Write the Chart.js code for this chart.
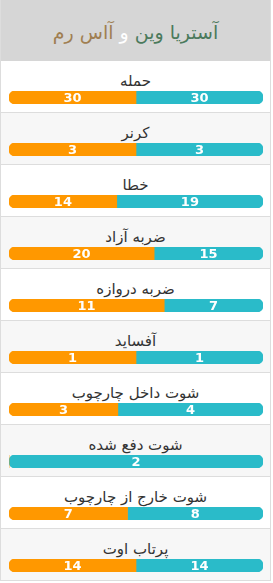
<!DOCTYPE html>
<html>
<head>
<meta charset="utf-8">
<script src="https://cdn.jsdelivr.net/npm/chart.js@4"></script>
<style>
  body { margin: 0; background: #fff; font-family: "DejaVu Sans", sans-serif; }
  .card { width: 269px; border: 1px solid #ddd; border-top: none; border-bottom: none; }
  .head { height: 61px; background: #d6d6d6; text-align: center; line-height: 64px; font-size: 19px; direction: rtl; }
  .row { position: relative; height: 51px; border-bottom: 1px solid #ddd; }
  .row:nth-child(odd) { background: #f7f7f7; }
  .title { position: absolute; left: 0; right: 0; top: 10px; text-align: center; font-size: 15px; line-height: 20px; color: #333; direction: rtl; }
  .bar { position: absolute; left: 8px; top: 30px; width: 254px; height: 13px; }
</style>
</head>
<body>
<div class="card" id="card">
  <div class="head"><span style="color:#4b7a5c">آستریا وین</span> <span style="color:#fff">و</span> <span style="color:#a07f52">آاس رم</span></div>
</div>
<script>
const categories = ['حمله', 'کرنر', 'خطا', 'ضربه آزاد', 'ضربه دروازه', 'آفساید', 'شوت داخل چارچوب', 'شوت دفع شده', 'شوت خارج از چارچوب', 'پرتاب اوت']
const leftValues = [30, 3, 14, 20, 11, 1, 3, 0, 7, 14]   // orange
const rightValues = [30, 3, 19, 15, 7, 1, 4, 2, 8, 14]   // teal

const orange = '#ff9800'
const teal = '#2abbc9'
const R = 6

const valueLabels = {
    id: 'valueLabels',
    afterDatasetsDraw(chart) {
        const ctx = chart.ctx
        ctx.save()
        ctx.font = 'bold 13px "DejaVu Sans"'
        ctx.fillStyle = '#fff'
        ctx.textAlign = 'center'
        ctx.textBaseline = 'middle'
        chart.data.datasets.forEach((ds, i) => {
            chart.getDatasetMeta(i).data.forEach(el => {
                if (!ds.raw) return
                ctx.fillText(ds.raw, (el.x + el.base) / 2, el.y + 1)
            })
        })
        ctx.restore()
    }
}

const card = document.getElementById('card')
categories.forEach((name, i) => {
    let a = leftValues[i]
    let b = rightValues[i]
    let t = a + b
    let row = document.createElement('div')
    row.className = 'row'
    row.innerHTML = '<div class="title">' + name + '</div><div class="bar"><canvas></canvas></div>'
    card.appendChild(row)
    new Chart(row.querySelector('canvas'), {
        type: 'bar',
        data: {
            labels: [name],
            datasets: [{
                data: [[0, a / t]],
                raw: a,
                backgroundColor: orange,
                borderSkipped: false,
                borderRadius: {topLeft: R, bottomLeft: R, topRight: b ? 0 : R, bottomRight: b ? 0 : R}
            }, {
                data: [[a / t, 1]],
                raw: b,
                backgroundColor: teal,
                borderSkipped: false,
                borderRadius: {topRight: R, bottomRight: R, topLeft: a ? 0 : R, bottomLeft: a ? 0 : R}
            }]
        },
        options: {
            indexAxis: 'y',
            responsive: true,
            maintainAspectRatio: false,
            animation: false,
            layout: {padding: 0},
            datasets: {bar: {grouped: false, barPercentage: 1, categoryPercentage: 1}},
            scales: {
                x: {display: false, min: 0, max: 1},
                y: {display: false}
            },
            plugins: {legend: {display: false}, tooltip: {enabled: false}}
        },
        plugins: [valueLabels]
    })
})
</script>
</body>
</html>
